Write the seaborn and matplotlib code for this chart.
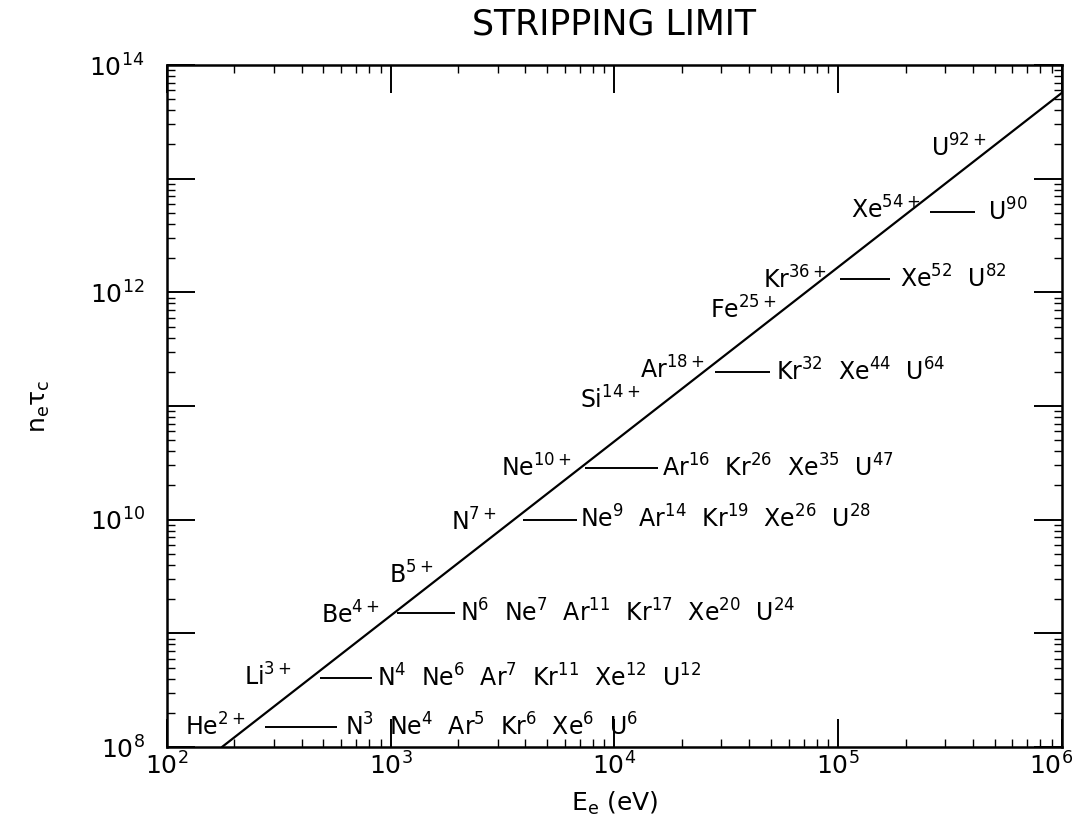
"""
Stripping limit: n_e tau_c needed to strip ions, versus electron energy E_e.
Log-log chart, line of fully stripped ions plus bars of partially stripped states.
"""

import pandas as pd
import seaborn as sns
import matplotlib.pyplot as plt
from matplotlib.ticker import LogLocator, NullFormatter
from matplotlib.transforms import ScaledTranslation

# stripping-limit line, read at its two ends
LINE_E = [176, 1.0e6]
LINE_NT = [1.0e8, 5.7e13]

# fully stripped ions written along the line (right edge of each label)
ION_NAMES = ["He", "Li", "Be", "B", "N", "Ne", "Si", "Ar", "Fe", "Kr", "Xe", "U"]
ION_CHARGES = [2, 3, 4, 5, 7, 10, 14, 18, 25, 36, 54, 92]
ION_E = [223, 362, 895, 1545, 2985, 6450, 13000, 25300, 53200, 89100, 2.32e5, 4.62e5]
ION_NT = [1.5e8, 4.13e8, 1.45e9, 3.26e9, 9.5e9, 2.85e10, 1.13e11, 2.07e11,
          7.0e11, 1.28e12, 5.3e12, 1.86e13]

# horizontal bars: charge states reached by heavier ions at the same n_e tau_c
ROW_NT = [1.5e8, 4.05e8, 1.51e9, 1.0e10, 2.85e10, 1.99e11, 1.31e12, 5.09e12]
ROW_E_START = [274, 483, 1067, 3900, 7380, 28100, 1.02e5, 2.57e5]
ROW_E_END = [575, 824, 1936, 6790, 15600, 49500, 1.70e5, 4.08e5]
ROW_E_TEXT = [625, 869, 2040, 7010, 16300, 52700, 1.89e5, 4.67e5]
ROW_IONS = [
    [("N", 3), ("Ne", 4), ("Ar", 5), ("Kr", 6), ("Xe", 6), ("U", 6)],
    [("N", 4), ("Ne", 6), ("Ar", 7), ("Kr", 11), ("Xe", 12), ("U", 12)],
    [("N", 6), ("Ne", 7), ("Ar", 11), ("Kr", 17), ("Xe", 20), ("U", 24)],
    [("Ne", 9), ("Ar", 14), ("Kr", 19), ("Xe", 26), ("U", 28)],
    [("Ar", 16), ("Kr", 26), ("Xe", 35), ("U", 47)],
    [("Kr", 32), ("Xe", 44), ("U", 64)],
    [("Xe", 52), ("U", 82)],
    [("U", 90)],
]

X_DECADES = [2, 3, 4, 5, 6]
Y_DECADES = [8, 9, 10, 11, 12, 13, 14]
Y_LABELLED = [8, 10, 12, 14]

TEXT_SIZE = 17


def ion_label(name: str, charge, plus: bool = False) -> str:
    sup = f"{charge}+" if plus else f"{charge}"
    return f"{name}$^{{{sup}}}$"


def main() -> None:
    sns.set_theme(style="white")
    plt.rcParams["font.family"] = ["DejaVu Sans"]
    plt.rcParams["mathtext.default"] = "regular"
    for key in ["text.color", "axes.labelcolor", "xtick.color", "ytick.color",
                "axes.edgecolor"]:
        plt.rcParams[key] = "black"

    fig = plt.figure(figsize=(10.81, 8.21), dpi=100)
    ax = fig.add_axes([0.1545, 0.0901, 0.8279, 0.8307])

    line_df = pd.DataFrame({"E": LINE_E, "nt": LINE_NT})
    sns.lineplot(data=line_df, x="E", y="nt", color="black", linewidth=1.6, ax=ax)

    ax.set_xscale("log")
    ax.set_yscale("log")
    ax.set_xlim(1e2, 1e6)
    ax.set_ylim(1e8, 1e14)

    ax.hlines(ROW_NT, ROW_E_START, ROW_E_END, color="black", linewidth=1.4)

    for name, q, e, nt in zip(ION_NAMES, ION_CHARGES, ION_E, ION_NT):
        ax.annotate(ion_label(name, q, plus=True), (e, nt), xytext=(0, -6),
                    textcoords="offset points", ha="right", va="baseline",
                    fontsize=TEXT_SIZE)

    for ions, e, nt in zip(ROW_IONS, ROW_E_TEXT, ROW_NT):
        text = "  ".join(ion_label(n, q) for n, q in ions)
        ax.annotate(text, (e, nt), xytext=(0, -6), textcoords="offset points",
                    ha="left", va="baseline", fontsize=TEXT_SIZE)

    ax.xaxis.set_minor_locator(LogLocator(base=10, subs=range(2, 10), numticks=20))
    ax.yaxis.set_minor_locator(LogLocator(base=10, subs=range(2, 10), numticks=20))
    ax.xaxis.set_minor_formatter(NullFormatter())
    ax.yaxis.set_minor_formatter(NullFormatter())
    ax.set_xticks([10.0 ** d for d in X_DECADES])
    ax.set_xticklabels([f"$10^{{{d}}}$" for d in X_DECADES])
    ax.set_yticks([10.0 ** d for d in Y_DECADES])
    ax.set_yticklabels([f"$10^{{{d}}}$" if d in Y_LABELLED else "" for d in Y_DECADES])

    ax.tick_params(which="both", direction="in", left=True, bottom=True,
                   top=True, right=True, color="black")
    ax.tick_params(which="major", length=20, width=1.4, labelsize=18)
    ax.tick_params(axis="x", which="major", pad=4)
    ax.tick_params(axis="y", which="major", pad=16)
    ax.tick_params(which="minor", length=6, width=1.0)

    # keep the 10^6 label inside the figure, as in the original
    last = ax.get_xticklabels()[-1]
    last.set_transform(last.get_transform() + ScaledTranslation(-8 / 72, 0, fig.dpi_scale_trans))

    for spine in ax.spines.values():
        spine.set_color("black")
        spine.set_linewidth(1.8)

    ax.set_xlabel("$E_e$ (eV)", fontsize=18)
    ax.set_ylabel(r"$n_e\tau_c$", fontsize=18)
    ax.xaxis.set_label_coords(0.5, -0.062)
    ax.yaxis.set_label_coords(-0.128, 0.5)
    ax.set_title("STRIPPING LIMIT", fontsize=25, pad=22)
    ax.grid(False)

    fig.savefig("out.png", dpi=100, facecolor="white")
    plt.close(fig)


if __name__ == "__main__":
    main()
